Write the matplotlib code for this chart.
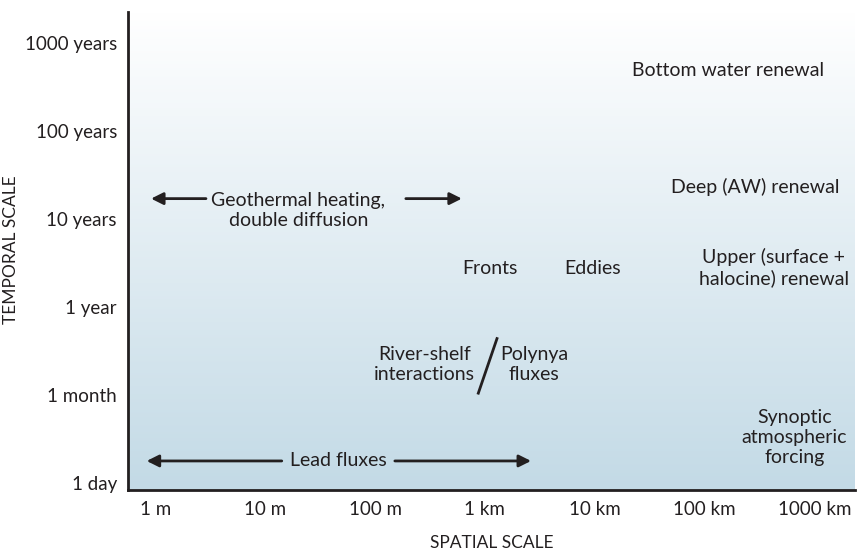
import numpy as np
import matplotlib.pyplot as plt
from matplotlib.colors import LinearSegmentedColormap

plt.rcParams['font.family'] = ['Lato', 'DejaVu Sans']

# Axis categories (log-spaced scales)
x_labels = ['1 m', '10 m', '100 m', '1 km', '10 km', '100 km', '1000 km']
y_labels = ['1 day', '1 month', '1 year', '10 years', '100 years', '1000 years']

# Process labels placed in (spatial index, temporal index) space
proc_text = ['Bottom water renewal', 'Deep (AW) renewal',
             'Upper (surface +\nhalocine) renewal', 'Eddies', 'Fronts',
             'Geothermal heating,\ndouble diffusion', 'River-shelf\ninteractions',
             'Polynya\nfluxes', 'Synoptic\natmospheric\nforcing', 'Lead fluxes']
proc_x = [5.21, 5.46, 5.63, 3.98, 3.05, 1.30, 2.45, 3.45, 5.82, 1.67]
proc_y = [4.69, 3.36, 2.45, 2.44, 2.44, 3.10, 1.35, 1.35, 0.52, 0.25]

# Range arrows: (x_start, x_end, y)
arrows = [(0.46, -0.04, 3.23), (2.28, 2.79, 3.23),
          (1.15, -0.08, 0.25), (2.18, 3.42, 0.25)]

txt_col = '#231f20'

fig = plt.figure(figsize=(8.6, 5.53), dpi=100)
ax = fig.add_axes([128/860, 1-490/553, (855-128)/860, (490-12)/553])

xlim = (-0.25, 6.37)
ylim = (-0.08, 5.35)

cmap = LinearSegmentedColormap.from_list('bg', ['#c3dae6', '#ffffff'])
grad = np.linspace(0, 1, 256).reshape(-1, 1)
ax.imshow(grad, aspect='auto', cmap=cmap, origin='lower',
          extent=[xlim[0], xlim[1], ylim[0], ylim[1]], zorder=0)

ax.set_xlim(*xlim)
ax.set_ylim(*ylim)

for s in ['top', 'right']:
    ax.spines[s].set_visible(False)
for s in ['left', 'bottom']:
    ax.spines[s].set_linewidth(2)
    ax.spines[s].set_color('#231f20')

ax.set_xticks(range(len(x_labels)))
ax.set_xticklabels(x_labels, fontsize=13.5, color=txt_col)
ax.set_yticks(range(len(y_labels)))
ax.set_yticklabels(y_labels, fontsize=13.5, color=txt_col)
ax.tick_params(length=0, pad=8)

ax.set_xlabel('SPATIAL SCALE', fontsize=12.5, color=txt_col, labelpad=12)
fig.text(11/860, 1 - 250/553, 'TEMPORAL SCALE', rotation=90, ha='center',
         va='center', fontsize=12.5, color=txt_col)

for t, x, y in zip(proc_text, proc_x, proc_y):
    ax.text(x, y, t, ha='center', va='center', fontsize=14,
            color=txt_col, linespacing=1.22)

for x0, x1, y in arrows:
    ax.annotate('', xy=(x1, y), xytext=(x0, y),
                arrowprops=dict(arrowstyle='-|>', color=txt_col, lw=2,
                                mutation_scale=18, shrinkA=0, shrinkB=0))

# slash between river-shelf and polynya
ax.plot([3.11, 2.94], [1.64, 1.02], color=txt_col, lw=2)

fig.savefig('out.png', dpi=100)
